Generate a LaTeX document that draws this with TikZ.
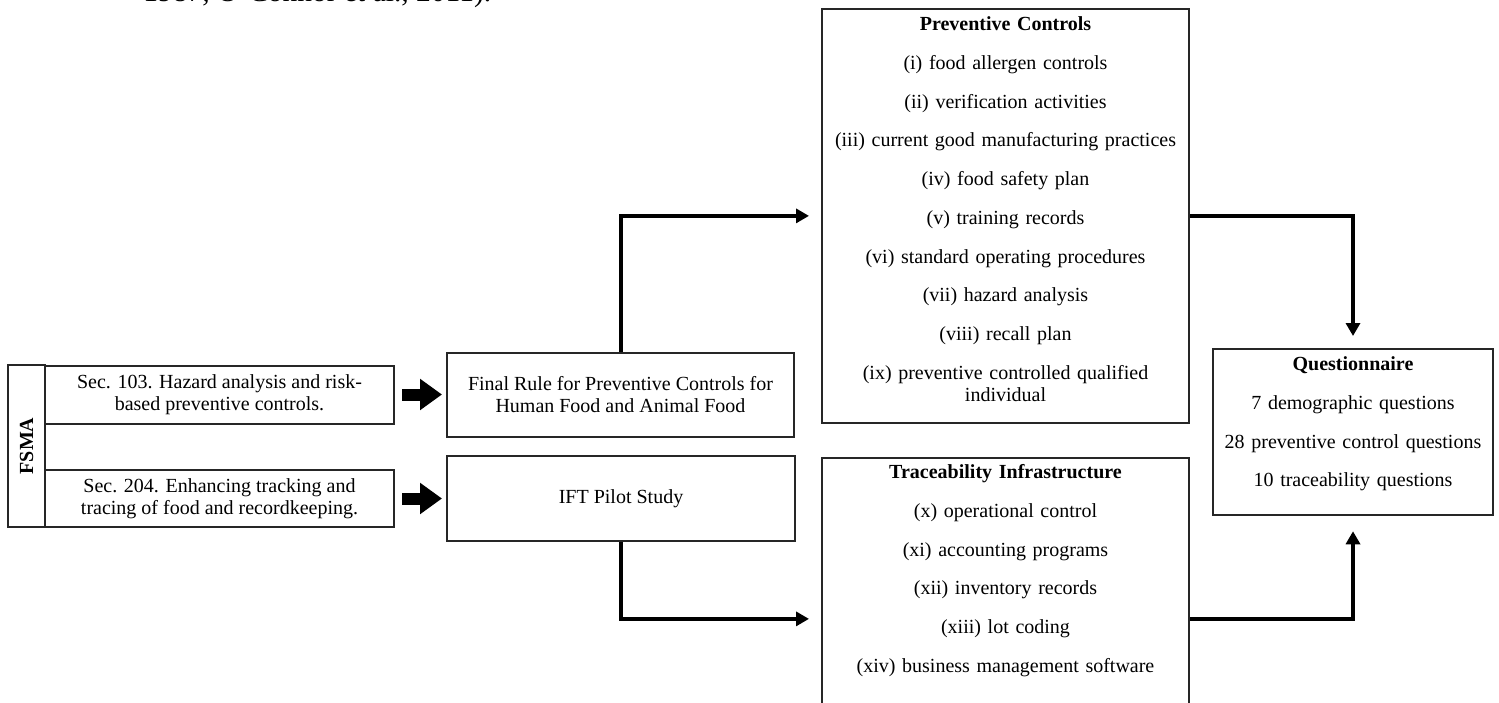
\documentclass[tikz,border=0pt]{standalone}
\usepackage{fontspec}
\setmainfont{Liberation Serif}
\usetikzlibrary{arrows.meta}
\newcommand{\boxFont}{\fontsize{10}{11}\selectfont}
\newcommand{\itemGap}{8.375pt}

\begin{document}
\begin{tikzpicture}[x=0.5pt, y=-0.5pt, every node/.style={font=\boxFont, text=black},
	box/.style={draw=black!85, line width=1pt, align=center, inner sep=0pt},
	listbox/.style={box, anchor=north, text width=183.5pt},
	blockarrow/.style={line width=6pt, -{Triangle[length=11pt,width=15pt]}, shorten <=3.5pt, shorten >=2pt},
	flowline/.style={line width=2pt, -{Triangle[length=6.5pt,width=7pt]}, shorten >=6pt}]
	\useasboundingbox (0,0) rectangle (1499,702);

	\node[anchor=base west, inner sep=0pt, font=\fontsize{14.75}{17}\selectfont] (citeLine) at (143,1) {1987, O'Connor et al., 2011).};

	%FSMA sections
	\node[box, minimum width=18.5pt, minimum height=81pt, font=\boxFont\bfseries] (fsma) at (26.5,446) {\rotatebox{90}{FSMA}};
	\node[box, minimum width=174.5pt, minimum height=29pt] (secHazard) at (219.5,394.5) {Sec. 103. Hazard analysis and risk-\\based preventive controls.};
	\node[box, minimum width=174.5pt, minimum height=28.5pt] (secTracing) at (219.5,498.5) {Sec. 204. Enhancing tracking and\\tracing of food and recordkeeping.};

	\node[box, minimum width=173.5pt, minimum height=42pt] (finalRule) at (620.5,394.5) {Final Rule for Preventive Controls for\\Human Food and Animal Food};
	\node[box, minimum width=174pt, minimum height=42.5pt] (iftPilot) at (621,498.5) {IFT Pilot Study};

	\node[listbox] (prevControls) at (1005.5,8) {\rule{0pt}{10.8pt}\textbf{Preventive Controls}\\[\itemGap]
		(i) food allergen controls\\[\itemGap]
		(ii) verification activities\\[\itemGap]
		(iii) current good manufacturing practices\\[\itemGap]
		(iv) food safety plan\\[\itemGap]
		(v) training records\\[\itemGap]
		(vi) standard operating procedures\\[\itemGap]
		(vii) hazard analysis\\[\itemGap]
		(viii) recall plan\\[\itemGap]
		(ix) preventive controlled qualified\\individual\rule[-10.7pt]{0pt}{0pt}};

	\node[listbox] (traceInfra) at (1005.5,457) {\rule{0pt}{10.3pt}\textbf{Traceability Infrastructure}\\[\itemGap]
		(x) operational control\\[\itemGap]
		(xi) accounting programs\\[\itemGap]
		(xii) inventory records\\[\itemGap]
		(xiii) lot coding\\[\itemGap]
		(xiv) business management software\rule[-53.7pt]{0pt}{0pt}};

	\node[box, anchor=north, text width=140pt] (questionnaire) at (1353,348) {\rule{0pt}{10.8pt}\textbf{Questionnaire}\\[\itemGap]
		7 demographic questions\\[\itemGap]
		28 preventive control questions\\[\itemGap]
		10 traceability questions\rule[-14.2pt]{0pt}{0pt}};

	\draw[blockarrow] (secHazard.east) -- (finalRule.west);
	\draw[blockarrow] (secTracing.east) -- (iftPilot.west);
	\draw[flowline] (finalRule.north) |- (prevControls.west);
	\draw[flowline] (iftPilot.south) |- (traceInfra.west);
	\draw[flowline] (prevControls.east) -| (questionnaire.north);
	\draw[flowline, shorten >=7.5pt] (traceInfra.east) -| (questionnaire.south);
\end{tikzpicture}
\end{document}
